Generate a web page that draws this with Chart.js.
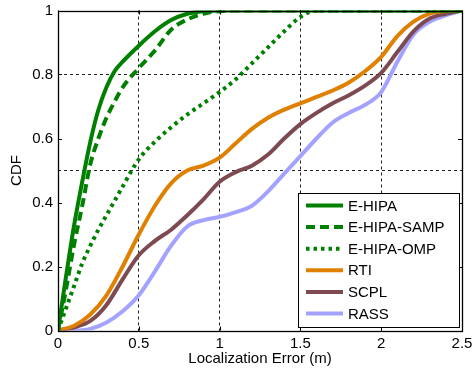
<!DOCTYPE html>
<html>
<head>
<meta charset="utf-8">
<script src="https://cdn.jsdelivr.net/npm/chart.js@4/dist/chart.umd.min.js"></script>
<style>
  html, body { margin: 0; padding: 0; background: #fff; }
</style>
</head>
<body>
<canvas id="cdf-chart" width="474" height="374"></canvas>
<script>
// Localization error samples (m) for the E-HIPA variants (finer near 0)
const hipaErrors = [0, 0.05, 0.1, 0.15, 0.2, 0.25, 0.3, 0.35, 0.4, 0.5, 0.6, 0.7, 0.8, 0.9, 1.0, 1.1, 1.2, 1.3, 1.4, 1.5, 1.6, 1.8, 2.0, 2.5];
const ehipaCdf = [0, 0.17, 0.33, 0.465, 0.59, 0.69, 0.76, 0.81, 0.84, 0.89, 0.935, 0.97, 0.99, 0.998, 1, 1, 1, 1, 1, 1, 1, 1, 1, 1];
const sampCdf  = [0, 0.13, 0.27, 0.39, 0.52, 0.6, 0.665, 0.715, 0.76, 0.82, 0.875, 0.94, 0.972, 0.99, 0.998, 1, 1, 1, 1, 1, 1, 1, 1, 1];
const ompCdf   = [0, 0.07, 0.14, 0.21, 0.265, 0.315, 0.36, 0.405, 0.45, 0.535, 0.59, 0.635, 0.675, 0.71, 0.745, 0.785, 0.835, 0.885, 0.935, 0.98, 1, 1, 1, 1];

// Localization error samples (m) for the baseline methods
const baseErrors = [0, 0.1, 0.2, 0.3, 0.4, 0.5, 0.6, 0.7, 0.8, 0.9, 1.0, 1.1, 1.2, 1.3, 1.4, 1.5, 1.6, 1.7, 1.8, 1.9, 2.0, 2.1, 2.2, 2.3, 2.4, 2.5];
const rtiCdf  = [0, 0.015, 0.05, 0.11, 0.2, 0.3, 0.39, 0.46, 0.5, 0.515, 0.54, 0.585, 0.63, 0.665, 0.69, 0.71, 0.73, 0.75, 0.775, 0.81, 0.855, 0.92, 0.965, 0.99, 0.998, 1];
const scplCdf = [0, 0.01, 0.03, 0.08, 0.16, 0.235, 0.28, 0.315, 0.36, 0.41, 0.465, 0.495, 0.515, 0.55, 0.6, 0.645, 0.68, 0.71, 0.735, 0.765, 0.805, 0.87, 0.935, 0.975, 0.99, 1];
const rassCdf = [0, 0, 0.005, 0.025, 0.06, 0.11, 0.185, 0.265, 0.325, 0.345, 0.355, 0.37, 0.39, 0.435, 0.49, 0.545, 0.6, 0.65, 0.68, 0.705, 0.745, 0.84, 0.925, 0.965, 0.985, 1];

const xTicks = [0, 0.5, 1, 1.5, 2, 2.5];
const yTicks = [0, 0.2, 0.4, 0.6, 0.8, 1];
const yGridLines = [0.5, 0.8];

const FONT = "'Liberation Sans', Arial, Helvetica, sans-serif";

function toPoints(xs, ys) {
    return xs.map((x, i) => ({ x: x, y: ys[i] }));
}

function series(label, xs, ys, color, dash) {
    return {
        label: label,
        data: toPoints(xs, ys),
        borderColor: color,
        backgroundColor: color,
        borderWidth: 4,
        borderDash: dash || [],
        borderCapStyle: 'butt',
        pointRadius: 0,
        cubicInterpolationMode: 'monotone',
        fill: false
    };
}

const datasets = [
    series('E-HIPA', hipaErrors, ehipaCdf, '#008000'),
    series('E-HIPA-SAMP', hipaErrors, sampCdf, '#008000', [9, 5]),
    series('E-HIPA-OMP', hipaErrors, ompCdf, '#008000', [3.5, 4]),
    series('RTI', baseErrors, rtiCdf, '#E08000'),
    series('SCPL', baseErrors, scplCdf, '#7E4A52'),
    series('RASS', baseErrors, rassCdf, '#A3A3FF')
];

// Box around the plot with small inward tick marks
const frame = {
    id: 'frame',
    afterDatasetsDraw(chart) {
        const { ctx, chartArea: a, scales } = chart;
        ctx.save();
        ctx.strokeStyle = '#000';
        ctx.lineWidth = 1;
        ctx.beginPath();
        yTicks.forEach(v => {
            const y = Math.round(scales.y.getPixelForValue(v)) + 0.5;
            ctx.moveTo(a.left, y); ctx.lineTo(a.left + 4, y);
            ctx.moveTo(a.right, y); ctx.lineTo(a.right - 4, y);
        });
        xTicks.forEach(v => {
            const x = Math.round(scales.x.getPixelForValue(v)) + 0.5;
            ctx.moveTo(x, a.bottom); ctx.lineTo(x, a.bottom - 4);
            ctx.moveTo(x, a.top); ctx.lineTo(x, a.top + 4);
        });
        ctx.stroke();
        ctx.lineWidth = 1.3;
        ctx.strokeRect(Math.round(a.left) + 0.5, Math.round(a.top) + 0.5,
                       Math.round(a.right - a.left), Math.round(a.bottom - a.top));
        ctx.restore();
    }
};

// Legend boxed in the lower right corner of the plot
const boxLegend = {
    id: 'boxLegend',
    afterDraw(chart) {
        const { ctx, chartArea: a } = chart;
        const w = 161, rowH = 21.6, h = 134;
        const right = a.right - 3, bottom = a.bottom - 3.5;
        const left = right - w, top = bottom - h;
        ctx.save();
        ctx.fillStyle = '#fff';
        ctx.fillRect(left, top, w, h);
        ctx.strokeStyle = '#000';
        ctx.lineWidth = 1;
        ctx.strokeRect(Math.round(left) + 0.5, Math.round(top) + 0.5, w, h);
        ctx.font = '15px ' + FONT;
        ctx.textBaseline = 'middle';
        chart.data.datasets.forEach((ds, i) => {
            const y = top + 12.5 + i * rowH;
            ctx.strokeStyle = ds.borderColor;
            ctx.lineWidth = ds.borderWidth;
            ctx.lineCap = 'butt';
            ctx.setLineDash(ds.borderDash);
            ctx.beginPath();
            ctx.moveTo(left + 8, y);
            ctx.lineTo(left + 45, y);
            ctx.stroke();
            ctx.setLineDash([]);
            ctx.fillStyle = '#000';
            ctx.fillText(ds.label, left + 50, y + 1);
        });
        ctx.restore();
    }
};

const plainNumber = v => String(v);

new Chart(document.getElementById('cdf-chart'), {
    type: 'line',
    data: { datasets: datasets },
    options: {
        responsive: false,
        animation: false,
        layout: { padding: { top: 10.5, right: 12, left: 0, bottom: 0 } },
        plugins: { legend: { display: false }, tooltip: { enabled: false } },
        scales: {
            x: {
                type: 'linear',
                min: 0,
                max: 2.5,
                afterBuildTicks: axis => { axis.ticks = xTicks.map(v => ({ value: v })); },
                afterFit: axis => {
                    axis.height = 43.5;
                    axis.paddingLeft = 0;
                    axis.paddingRight = 0;
                },
                ticks: { color: '#000', font: { family: FONT, size: 15 }, padding: 4, callback: plainNumber },
                grid: {
                    color: '#222',
                    lineWidth: 1,
                    drawTicks: false
                },
                border: { display: false, dash: [3, 3] },
                title: {
                    display: true,
                    text: 'Localization Error (m)',
                    color: '#000',
                    font: { family: FONT, size: 15 },
                    padding: { top: 0, bottom: 6 }
                }
            },
            y: {
                min: 0,
                max: 1,
                afterBuildTicks: axis => { axis.ticks = yTicks.map(v => ({ value: v })); },
                afterFit: axis => {
                    axis.width = 58;
                    axis.paddingTop = 0;
                    axis.paddingBottom = 0;
                },
                ticks: { color: '#000', font: { family: FONT, size: 15 }, padding: 5, callback: plainNumber },
                grid: { display: false, drawTicks: false },
                border: { display: false },
                title: {
                    display: true,
                    text: 'CDF',
                    color: '#000',
                    font: { family: FONT, size: 15 },
                    padding: { top: 8, bottom: 0 }
                }
            },
            yGrid: {
                position: 'right',
                min: 0,
                max: 1,
                afterBuildTicks: axis => { axis.ticks = yGridLines.map(v => ({ value: v })); },
                afterFit: axis => { axis.width = 0; },
                ticks: { display: false },
                grid: { color: '#222', lineWidth: 1, drawTicks: false },
                border: { display: false, dash: [3, 3] }
            }
        }
    },
    plugins: [frame, boxLegend]
});
</script>
</body>
</html>
